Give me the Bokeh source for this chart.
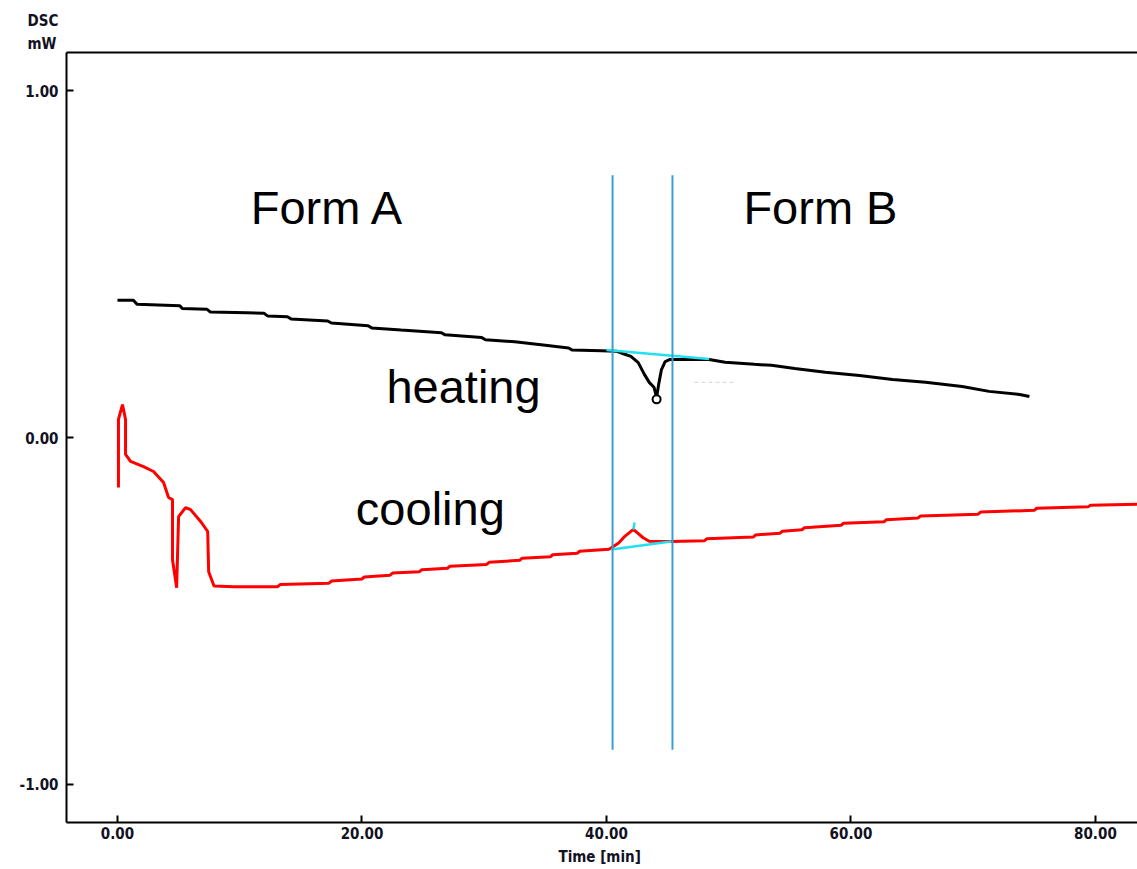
from bokeh.plotting import figure
from bokeh.models import Range1d, FixedTicker, LinearAxis, Title, NumeralTickFormatter
from bokeh.core.properties import value
from bokeh.embed import file_html
from bokeh.resources import INLINE

# Heating curve (black)
heat_time = [0, 1.3, 1.6, 5.1, 5.3, 7.3, 7.6, 10.6, 12.0, 12.3, 13.9, 14.2, 17.2, 17.5, 20.5, 20.8,
             23.2, 26.5, 26.8, 29.8, 30.1, 32.5, 35.0, 36.9, 37.2, 39.6, 40.8, 41.5, 42.0, 42.6, 43.1,
             43.5, 43.9, 44.1, 44.3, 44.5, 44.8, 45.2, 48.4, 49.7, 52.1, 53.5, 55.4, 57.9, 60.7, 63.4,
             66.1, 69.1, 71.3, 73.8, 74.6]
heat_dsc = [0.396, 0.396, 0.384, 0.380, 0.372, 0.370, 0.362, 0.360, 0.358, 0.350, 0.348, 0.342, 0.336,
            0.330, 0.322, 0.316, 0.310, 0.302, 0.296, 0.288, 0.282, 0.276, 0.266, 0.258, 0.252, 0.250,
            0.249, 0.240, 0.234, 0.216, 0.182, 0.159, 0.144, 0.115, 0.159, 0.196, 0.219, 0.225, 0.225,
            0.217, 0.211, 0.208, 0.199, 0.188, 0.179, 0.167, 0.159, 0.147, 0.133, 0.124, 0.118]

# Cooling curve (red)
cool_time = [0.08, 0.08, 0.41, 0.66, 0.66, 1.07, 2.13, 2.95, 3.77, 4.18, 4.5, 4.5, 4.84, 5.0, 5.57, 5.98,
             6.8, 7.38, 7.46, 7.79, 7.9, 9.5, 13.1, 13.3, 17.3, 17.5, 20.0, 20.2, 22.3, 22.5, 24.7, 24.9,
             27.0, 27.2, 30.2, 30.4, 32.9, 33.1, 35.4, 35.6, 37.6, 37.8, 40.2, 40.4, 41.0, 41.5, 42.2,
             43.0, 43.5, 45.3, 48.0, 48.2, 52.0, 52.2, 54.2, 54.4, 56.0, 56.2, 59.2, 59.4, 62.7, 62.9,
             65.5, 65.7, 70.4, 70.6, 75.0, 75.2, 79.4, 79.6, 84.0]
cool_dsc = [-0.144, 0.052, 0.095, 0.052, -0.049, -0.069, -0.084, -0.098, -0.130, -0.173, -0.179, -0.352,
            -0.433, -0.228, -0.202, -0.208, -0.242, -0.271, -0.387, -0.418, -0.428, -0.430, -0.430,
            -0.424, -0.420, -0.414, -0.408, -0.402, -0.397, -0.391, -0.387, -0.381, -0.377, -0.371,
            -0.366, -0.360, -0.354, -0.348, -0.344, -0.338, -0.334, -0.328, -0.322, -0.318, -0.304,
            -0.285, -0.265, -0.289, -0.299, -0.300, -0.298, -0.292, -0.287, -0.281, -0.276, -0.270,
            -0.266, -0.260, -0.253, -0.247, -0.243, -0.237, -0.232, -0.226, -0.221, -0.215, -0.210,
            -0.204, -0.200, -0.195, -0.192]

# Integration baselines (cyan)
base_x0 = [40.0, 40.4, 42.2]
base_y0 = [0.252, -0.323, -0.265]
base_x1 = [48.4, 45.3, 42.3]
base_y1 = [0.226, -0.300, -0.245]

# Faint residual marks beside the heating peak
faint_x0 = [47.2]
faint_x1 = [50.4]
faint_y = [0.159]

# Peak marker on heating curve
peak_time = [44.1]
peak_dsc = [0.110]

# Vertical boundary lines
bound_time = [40.5, 45.4]
bound_top = [0.756, 0.756]
bound_bottom = [-0.900, -0.900]

# Annotation texts
ann_text = ["Form A", "Form B", "heating", "cooling"]
ann_x = [10.9, 51.2, 22.0, 19.5]
ann_y = [0.664, 0.664, 0.147, -0.205]

x_ticks = [0, 20, 40, 60, 80]
y_ticks = [-1, 0, 1]

p = figure(width=1137, height=869, output_backend="svg", toolbar_location=None,
           x_range=Range1d(-4.17, 83.44), y_range=Range1d(-1.11, 1.11),
           min_border_left=66, min_border_right=0, min_border_top=52, min_border_bottom=47)
p.outline_line_color = None
p.grid.visible = False
p.background_fill_color = "white"
p.border_fill_color = "white"

tick_font = "DejaVu Sans Condensed"
for ax in [p.xaxis[0], p.yaxis[0]]:
    ax.axis_line_width = 2
    ax.axis_line_color = "black"
    ax.major_tick_in = 7
    ax.major_tick_out = 0
    ax.major_tick_line_width = 2
    ax.minor_tick_line_color = None
    ax.major_label_text_font = tick_font
    ax.major_label_text_font_style = "bold"
    ax.major_label_text_font_size = "15px"
    ax.major_label_text_color = "#111122"
    ax.formatter = NumeralTickFormatter(format="0.00")

p.xaxis[0].ticker = FixedTicker(ticks=x_ticks)
p.yaxis[0].ticker = FixedTicker(ticks=y_ticks)
p.xaxis[0].major_label_standoff = 4
p.yaxis[0].major_label_standoff = 8
p.xaxis[0].axis_label = "Time  [min]"
p.xaxis[0].axis_label_text_font = tick_font
p.xaxis[0].axis_label_text_font_style = "bold"
p.xaxis[0].axis_label_text_font_size = "15px"
p.xaxis[0].axis_label_text_color = "#111122"
p.xaxis[0].axis_label_standoff = 6

top = LinearAxis(ticker=FixedTicker(ticks=[]), axis_line_width=2, axis_line_color="black",
                 major_tick_line_color=None, minor_tick_line_color=None,
                 major_label_text_font_size="0px", major_label_standoff=0)
p.add_layout(top, "above")

p.add_layout(Title(text="mW", align="left", offset=-39, standoff=0, text_font=tick_font,
                   text_font_style="bold", text_font_size="15px", text_color="#111122"), "above")
p.add_layout(Title(text="DSC", align="left", offset=-39, standoff=6, text_font=tick_font,
                   text_font_style="bold", text_font_size="15px", text_color="#111122"), "above")

# curves
p.line(heat_time, heat_dsc, line_color="black", line_width=3)
p.line(cool_time, cool_dsc, line_color="red", line_width=3)
p.segment(x0=base_x0, y0=base_y0, x1=base_x1, y1=base_y1, line_color="#22e0f0", line_width=2.5)
p.segment(x0=faint_x0, y0=faint_y, x1=faint_x1, y1=faint_y, line_color="#d4d4d4",
          line_width=1, line_dash="4 3")
p.scatter(peak_time, peak_dsc, size=8, marker="circle", fill_color="white",
          line_color="black", line_width=2)
p.segment(x0=bound_time, y0=bound_top, x1=bound_time, y1=bound_bottom,
          line_color="#3a9fd0", line_width=2)

p.text(x=ann_x, y=ann_y, text=ann_text, text_font=value("Liberation Sans"),
       text_font_size="47px", text_color="black", text_align="left", text_baseline="alphabetic")

open("out.html", "w").write(file_html(p, INLINE))
